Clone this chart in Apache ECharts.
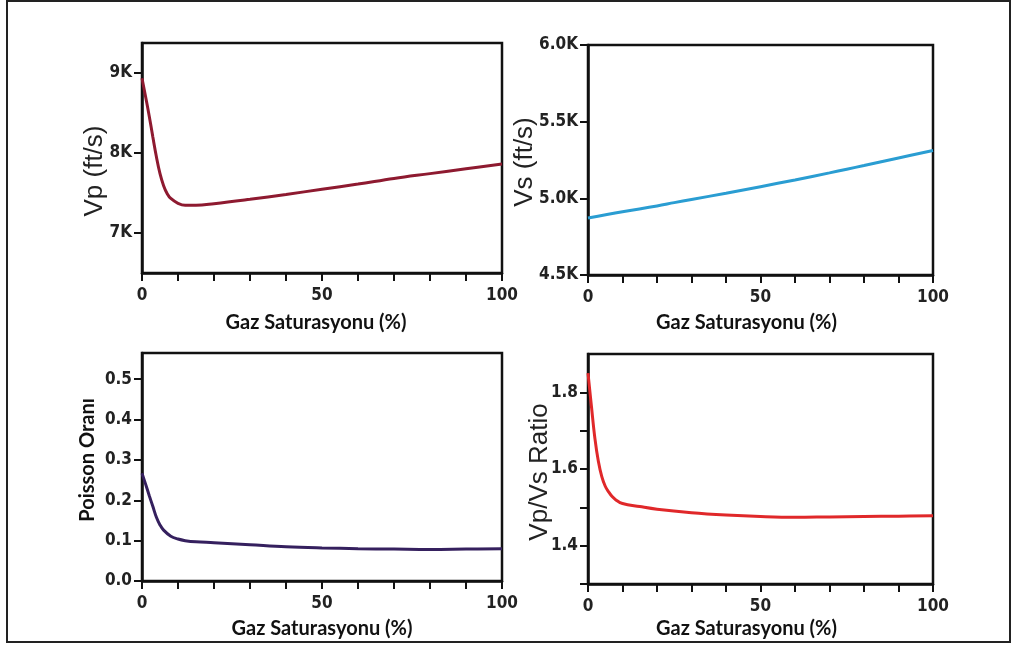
<!DOCTYPE html>
<html>
<head>
<meta charset="utf-8">
<script src="https://cdn.jsdelivr.net/npm/echarts@6/dist/echarts.min.js"></script>
<style>
html,body{margin:0;padding:0;background:#fff;}
#chart{width:1011px;height:648px;}
</style>
</head>
<body>
<div id="chart"></div>
<script>
// ---- Data ----
const xTitle = 'Gaz Saturasyonu (%)';
const xTickValues = [0,10,20,30,40,50,60,70,80,90,100];
const xLabelValues = [0,50,100];

const vpX = [0,1,2,3,4,5,6,7,8,10,12,15,20,30,40,50,60,70,80,90,100];
const vpY = [8930,8700,8460,8200,7950,7740,7590,7490,7430,7370,7345,7345,7365,7420,7480,7545,7610,7680,7740,7800,7860];
const vpTicks = [7000,8000,9000];

const vsX = [0,10,20,25,30,40,50,60,70,75,80,90,100];
const vsY = [4872,4913,4950,4972,4993,5033,5076,5120,5166,5190,5214,5263,5312];
const vsTicks = [4500,5000,5500,6000];

const prX = [0,1,2,3,4,5,6,8,10,12,15,20,30,40,50,60,70,80,90,100];
const prY = [0.267,0.24,0.212,0.185,0.158,0.139,0.126,0.111,0.104,0.100,0.097,0.095,0.09,0.085,0.082,0.08,0.079,0.078,0.079,0.08];
const prTicks = [0,0.1,0.2,0.3,0.4,0.5];

const vrX = [0,1,2,3,4,5,6,7,8,10,15,20,30,40,50,60,70,80,90,100];
const vrY = [1.85,1.763,1.68,1.62,1.58,1.555,1.54,1.528,1.52,1.51,1.502,1.495,1.486,1.48,1.476,1.474,1.475,1.476,1.477,1.478];
const vrTicks = [1.3,1.4,1.5,1.6,1.7,1.8];
const vrLabels = [1.4,1.6,1.8];

const zip = (a,b)=>a.map((v,i)=>[v,b[i]]);

// ---- Styling helpers ----
const tickFont = "'DejaVu Sans Condensed','Liberation Sans Narrow',sans-serif";
const titleFont = "Lato,'Open Sans',sans-serif";
const axisColor = '#111';

function xAxis(gridIndex, gap, shift){
  return {
    type:'value', gridIndex, min:0, max:100, interval:10,
    name:xTitle, nameLocation:'middle', nameGap:gap, nameMoveOverlap:false,
    nameTextStyle:{fontFamily:titleFont, fontWeight:'bold', fontSize:20, color:'#111', padding:[0, shift||0, 0, 0]},
    axisLine:{show:true, lineStyle:{color:axisColor, width:2.5}},
    axisTick:{show:true, length:8, inside:false, customValues:xTickValues, lineStyle:{color:axisColor, width:2}},
    axisLabel:{customValues:xLabelValues, margin:14, fontFamily:tickFont, fontWeight:'bold', fontSize:17, color:'#222'},
    splitLine:{show:false}
  };
}
function yAxis(gridIndex, min, max, interval, ticks, labels, fmt, name, nameStyle, gap){
  return {
    type:'value', gridIndex, min, max, interval,
    name, nameLocation:'middle', nameGap:gap, nameMoveOverlap:false, nameTextStyle:nameStyle,
    axisLine:{show:true, lineStyle:{color:axisColor, width:2.5}},
    axisTick:{show:true, length:8, inside:false, customValues:ticks, lineStyle:{color:axisColor, width:2}},
    axisLabel:{customValues:labels, margin:10, formatter:fmt, fontFamily:tickFont, fontWeight:'bold', fontSize:17, color:'#222'},
    splitLine:{show:false}
  };
}
const bigName = {fontFamily:"'Liberation Sans',Arial,sans-serif", fontSize:26, color:'#222'};
const gridBase = {show:true, borderColor:axisColor, borderWidth:2.5, containLabel:false};

const option = {
  backgroundColor:'#fff',
  animation:false,
  graphic:[{type:'rect', shape:{x:7,y:1,width:1003,height:641}, style:{fill:'none', stroke:'#222', lineWidth:2}, silent:true, z:-1}],
  grid:[
    Object.assign({left:142, top:43, width:360, height:230}, gridBase),
    Object.assign({left:588, top:45, width:345, height:230}, gridBase),
    Object.assign({left:142, top:353, width:360, height:228}, gridBase),
    Object.assign({left:588, top:354, width:345, height:230}, gridBase)
  ],
  xAxis:[ xAxis(0,40,12), xAxis(1,38,28), xAxis(2,38,0), xAxis(3,35,28) ],
  yAxis:[
    yAxis(0, 6500, 9370, 500, vpTicks, vpTicks, v=>(v/1000)+'K', 'Vp (ft/s)', Object.assign({padding:[0,0,0,-26]}, bigName), 34),
    yAxis(1, 4500, 6000, 500, vsTicks, vsTicks, v=>(v/1000).toFixed(1)+'K', 'Vs (ft/s)', Object.assign({padding:[0,4,0,0]}, bigName), 50),
    yAxis(2, 0, 0.565, 0.1, prTicks, prTicks, v=>v.toFixed(1), 'Poisson Oranı', {fontFamily:titleFont, fontWeight:'bold', fontSize:20, color:'#111', padding:[0,0,0,14]}, 44),
    yAxis(3, 1.3, 1.9, 0.1, vrTicks, vrLabels, v=>v.toFixed(1), 'Vp/Vs Ratio', Object.assign({padding:[0,0,0,-6]}, bigName), 35)
  ],
  series:[
    {type:'line', xAxisIndex:0, yAxisIndex:0, data:zip(vpX,vpY), smooth:0.4, showSymbol:false, lineStyle:{color:'#8e1a30', width:3}},
    {type:'line', xAxisIndex:1, yAxisIndex:1, data:zip(vsX,vsY), smooth:0.4, showSymbol:false, lineStyle:{color:'#2a9dd2', width:3}},
    {type:'line', xAxisIndex:2, yAxisIndex:2, data:zip(prX,prY), smooth:0.4, showSymbol:false, lineStyle:{color:'#35205e', width:3}},
    {type:'line', xAxisIndex:3, yAxisIndex:3, data:zip(vrX,vrY), smooth:0.4, showSymbol:false, lineStyle:{color:'#e0282a', width:3}}
  ]
};
const chart = echarts.init(document.getElementById('chart'), null, {renderer:'canvas'});
chart.setOption(option);
</script>
</body>
</html>
